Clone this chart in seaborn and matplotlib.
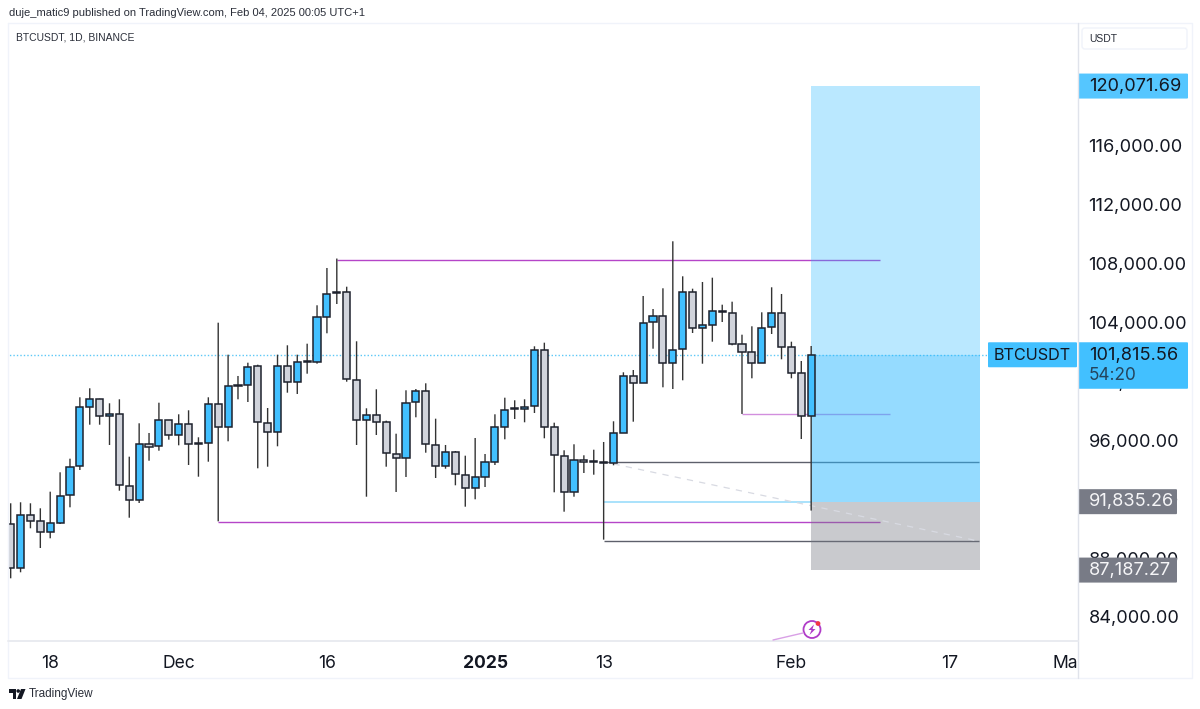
import numpy as np
import pandas as pd
import matplotlib
matplotlib.use("Agg")
import matplotlib.pyplot as plt
import matplotlib.dates as mdates
from matplotlib.patches import FancyBboxPatch, Circle, Polygon
from matplotlib.transforms import Bbox
import seaborn as sns

# daily candles from 14 Nov 2024 to 3 Feb 2025
first_day = "2024-11-14"
opens = [90298, 87309, 90950, 90502, 89795, 90386, 92268, 94239, 98267, 98811,
         97636, 97812, 92921, 91929, 95774, 95597, 97364, 96365, 97092, 95820,
         95801, 98492, 96888, 99690, 99762, 101032, 97201, 96548, 101053, 99945,
         101390, 101345, 104402, 106050, 106060, 100122, 97405, 97724, 97228, 95095,
         94823, 98587, 99334, 95706, 94239, 95231, 93668, 92744, 93532, 94551,
         96929, 98170, 98152, 98315, 102140, 96888, 94959, 92513, 94687, 94570,
         94530, 94483, 96521, 100394, 99918, 104022, 104450, 101277, 102188, 106060,
         103635, 103838, 104760, 104674, 102527, 101984, 101277, 103682, 104633, 102344,
         100557, 97656]
closes = [87309, 90950, 90543, 89795, 90386, 92241, 94211, 98247, 98791, 97636,
          97812, 92948, 91929, 95774, 95570, 97364, 96365, 97092, 95774, 95780,
          98492, 96888, 99674, 99740, 101005, 97228, 96548, 101053, 99945, 101325,
          101355, 104382, 105965, 106015, 100170, 97405, 97703, 97228, 95122, 94823,
          98559, 99334, 95754, 94259, 95210, 93695, 92744, 93491, 94510, 96888,
          98084, 98135, 98288, 102140, 96888, 95006, 92513, 94646, 94551, 94535,
          94490, 96481, 100394, 99918, 103995, 104450, 101277, 102160, 106060, 103635,
          103818, 104790, 104725, 102527, 102004, 101277, 103635, 104633, 102364, 100577,
          97656, 101815.56]
highs = [91725, 91793, 91725, 91385, 92513, 93831, 94755, 98926, 99538, 98831,
         98519, 98791, 94891, 97160, 96501, 98559, 97384, 97771, 98043, 96209,
         98926, 103995, 101821, 100374, 101277, 101141, 98199, 101821, 102459, 101821,
         102568, 105177, 107711, 108353, 106440, 102731, 98179, 99470, 97337, 96453,
         99402, 99490, 99877, 97473, 95686, 95278, 94959, 96161, 95074, 97771,
         98899, 98723, 98791, 102391, 102636, 97201, 95326, 95733, 94986, 95366,
         95890, 97296, 100625, 100781, 105809, 104925, 106332, 109525, 107147, 106305,
         106760, 107052, 105218, 105422, 103180, 103750, 104701, 106400, 105945, 102704,
         101393, 102412]
lows = [86629, 87037, 90026, 88688, 89347, 90318, 91453, 93987, 97065, 97065,
        95686, 92581, 90746, 91745, 94619, 95298, 96046, 95665, 94327, 93532,
        94551, 90500, 95937, 98791, 98607, 94103, 94211, 95597, 99239, 99151,
        100530, 101209, 103275, 105265, 99986, 95686, 92173, 96365, 94211, 92493,
        93512, 97568, 95163, 93444, 94075, 92948, 91494, 91997, 92832, 94327,
        96073, 97452, 97228, 97860, 96141, 92472, 91154, 92173, 93783, 93668,
        89256, 94306, 96501, 97269, 99898, 102228, 99606, 99490, 100081, 103295,
        101209, 102704, 104042, 102459, 97795, 100217, 101257, 103227, 101508, 100217,
        96093, 91231]

price_ticks = list(range(84000, 124000, 4000))
date_ticks = ["2024-11-18", "2024-12-01", "2024-12-16", "2025-01-01",
              "2025-01-13", "2025-02-01", "2025-02-17", "2025-03-01"]
date_labels = ["18", "Dec", "16", "2025", "13", "Feb", "17", "Mar"]

# position tool levels
target_price = 120071.69
last_price = 101815.56
entry_price = 91835.26
stop_price = 87187.27
box_days = ["2025-02-03", "2025-02-20"]

# drawn levels: price, start, end
purple_levels = [(108234, "2024-12-17", "2025-02-10"),
                 (90454, "2024-12-05", "2025-02-10"),
                 (97792, "2025-01-27", "2025-02-11")]
grey_levels = [(94508, "2025-01-13", "2025-02-20"),
               (89184, "2025-01-13", "2025-02-20")]
cyan_level = (91835, "2025-01-13", "2025-02-03")
dash_line = [("2025-01-14", 94400), ("2025-02-20", 89150)]

BLUE = "#42c0ff"
GREY = "#d1d4dc"
INK = "#131722"
PURPLE = "#b545c8"
SANS = ["Liberation Sans", "DejaVu Sans"]

sns.set_theme(style="white")
plt.rcParams["font.family"] = ["Inter", "DejaVu Sans"]

dates = pd.date_range(first_day, periods=len(opens), freq="D")
df = pd.DataFrame({"x": mdates.date2num(dates), "open": opens, "close": closes,
                   "high": highs, "low": lows})
df["bottom"] = df[["open", "close"]].min(axis=1)
df["body"] = (df["close"] - df["open"]).abs()


def day(s):
    return mdates.date2num(pd.Timestamp(s))


fig = plt.figure(figsize=(12, 7.09), dpi=100, facecolor="white")
ax = fig.add_axes([9 / 1200, 69 / 709, 1069 / 1200, 616 / 709])

# position box sits under the candles, over the drawn lines
bx = [day(box_days[0]), day(box_days[1]) + 0.1]
ax.fill_between(bx, entry_price, target_price, color="#2bb8ff", alpha=0.32, lw=0, zorder=1.6)
ax.fill_between(bx, entry_price, last_price, color="#2bb8ff", alpha=0.26, lw=0, zorder=1.6)
ax.fill_between(bx, stop_price, entry_price, color="#787b86", alpha=0.40, lw=0, zorder=1.6)

ax.hlines(last_price, df["x"].iloc[0] - 2, day("2025-02-20") + 0.8, color="#5cc8f7",
          lw=1.0, ls=(0, (1, 1.5)), zorder=1.2)
for (price, start, end), a in zip(purple_levels, [1, 1, 0.6]):
    ax.hlines(price, day(start), day(end), color=PURPLE, lw=1.0, alpha=a, zorder=1.3)
for price, start, end in grey_levels:
    ax.hlines(price, day(start), day(end), color="#5d606b", lw=1.0, zorder=1.3)
ax.hlines(cyan_level[0], day(cyan_level[1]), day(cyan_level[2]), color="#a9e2fb", lw=1.4, zorder=1.3)
ax.plot([day(dash_line[0][0]), day(dash_line[1][0])], [dash_line[0][1], dash_line[1][1]],
        color="#d8dae2", lw=0.9, ls=(0, (5, 5)), zorder=1.7)

wicks = ax.vlines(df["x"], df["low"], df["high"], color="#333333", lw=1.0, zorder=1.8)
wicks.set_snap(False)

up = df[df["close"] >= df["open"]]
down = df[df["close"] < df["open"]]
for part, col in [(up, BLUE), (down, GREY)]:
    sns.barplot(x=part["x"].values, y=part["body"].values, bottom=part["bottom"].values,
                native_scale=True, width=0.72, color=col, saturation=1, errorbar=None,
                edgecolor="#1e222d", linewidth=1.1, zorder=2, ax=ax)

ax.set_xlim(day(first_day) - 0.17, day(first_day) + 108)
ax.set_ylim(82437, 124288)

ax.yaxis.tick_right()
ax.set_yticks(price_ticks)
ax.set_yticklabels([f"{v:,.2f}" for v in price_ticks], fontsize=13.1, color=INK)
ax.tick_params(axis="y", length=0, pad=7.5)
ax.set_xticks([day(d) for d in date_ticks])
ax.set_xticklabels(date_labels, fontsize=12.6, color=INK)
ax.tick_params(axis="x", length=0, pad=11)
ax.set_xlabel("")
ax.set_ylabel("")
ax.grid(False)
for lab in ax.get_xticklabels():
    if lab.get_text() == "2025":
        lab.set_fontweight("bold")
    lab.set_clip_on(True)
    lab.set_clip_box(Bbox([[0, 0], [1078, 709]]))
for side in ["top", "left", "right", "bottom"]:
    ax.spines[side].set_visible(False)

# pixel overlay for the TradingView chrome
ov = fig.add_axes([0, 0, 1, 1], facecolor="none", zorder=10)
ov.set_xlim(0, 1200)
ov.set_ylim(709, 0)
ov.axis("off")

ov.plot([8, 1192, 1192, 8, 8], [23, 23, 678, 678, 23], color="#f0f3fa", lw=1)
ov.plot([1078, 1078], [23, 678], color="#e0e3eb", lw=1)
ov.plot([8, 1078], [640.5, 640.5], color="#e9ebf0", lw=1.4)

ov.text(9, 13, "duje_matic9 published on TradingView.com, Feb 04, 2025 00:05 UTC+1",
        fontsize=8.0, color="#2a2e39", va="center", family=SANS)
ov.text(16, 37, "BTCUSDT, 1D, BINANCE", fontsize=7.5, color="#2a2e39", va="center", family=SANS)

ov.add_patch(FancyBboxPatch((1082, 28), 105, 21, boxstyle="round,pad=0,rounding_size=3",
                            fc="white", ec="#f0f3fa", lw=1))
ov.text(1089, 38.5, "USDT", fontsize=7.5, color="#2a2e39", va="center", family=SANS)


def price_y(price):
    return 709 - ax.transData.transform((ax.get_xlim()[0], price))[1]


def tag(price, label, fc, tc, right):
    y = price_y(price)
    ov.add_patch(FancyBboxPatch((1078, y - 12.5), right - 1078, 25,
                                boxstyle="round,pad=0,rounding_size=1", fc=fc, ec="none"))
    ov.text(1089, y + 0.3, label, fontsize=13.1, color=tc, va="center")


tag(target_price, f"{target_price:,.2f}", "#55c6ff", INK, 1188)
tag(entry_price, f"{entry_price:,.2f}", "#787b86", "#f5f5f7", 1177)
tag(stop_price, f"{stop_price:,.2f}", "#787b86", "#f5f5f7", 1177)

y_last = price_y(last_price)
ov.add_patch(FancyBboxPatch((1078, y_last - 12.5), 110, 46.5,
                            boxstyle="round,pad=0,rounding_size=1", fc=BLUE, ec="none"))
ov.add_patch(FancyBboxPatch((988, y_last - 12.5), 89, 25,
                            boxstyle="round,pad=0,rounding_size=1", fc=BLUE, ec="none"))
ov.text(994, y_last + 0.3, "BTCUSDT", fontsize=11.7, color=INK, va="center")
ov.text(1089, y_last + 0.3, f"{last_price:,.2f}", fontsize=13.1, color=INK, va="center")
ov.text(1089, y_last + 20.5, "54:20", fontsize=12.4, color="#24445c", va="center")

# ideas marker above the time scale
ov.plot([773, 803], [640, 633], color="#d9a0e6", lw=1)
ov.add_patch(Circle((812, 629.5), 8.5, fc="white", ec="#b03cc8", lw=1.3))
ov.add_patch(Polygon([(814, 624.5), (808.5, 630), (811.5, 630), (809.5, 635),
                      (815.5, 629), (812.5, 629)], fc="#b03cc8", ec="none"))
ov.add_patch(Circle((818, 623.5), 2.4, fc="#f23645", ec="none"))

# TradingView logo and wordmark
ov.add_patch(Polygon([(9, 689), (16, 689), (16, 699), (12.5, 699), (12.5, 692.5), (9, 692.5)],
                     fc=INK, ec="none"))
ov.add_patch(Circle((18.2, 691), 1.8, fc=INK, ec="none"))
ov.add_patch(Polygon([(21, 689), (25.5, 689), (21.5, 699), (17, 699)], fc=INK, ec="none"))
ov.text(29, 694, "TradingView", fontsize=8.5, color="#2a2e39", va="center", family=SANS)

fig.savefig("out.png", dpi=100)
